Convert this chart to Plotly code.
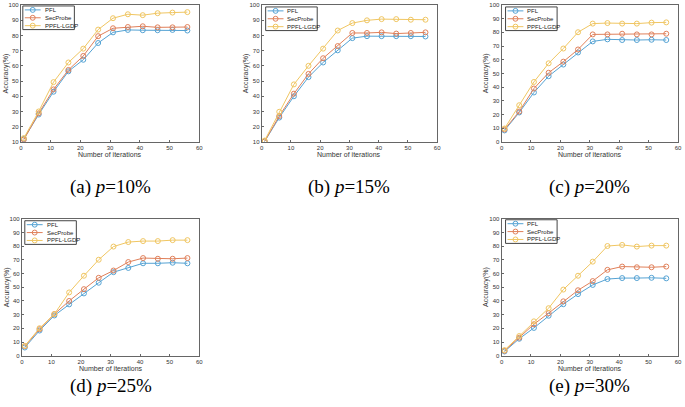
import plotly.graph_objects as go

W, H = 685, 407

iterations = [1, 6, 11, 16, 21, 26, 31, 36, 41, 46, 51, 56]
series_names = ["PFL", "SecProbe", "PPFL-LGDP"]

# (a) p=10%
pfl_a = [12, 28, 43, 56.4, 64, 75, 82, 83.6, 83.4, 83.4, 83.6, 83.2]
sec_a = [11.5, 28.8, 44.5, 57.3, 66.5, 79.5, 84.7, 85.5, 86, 85.3, 85.3, 85.5]
lgdp_a = [12.5, 30, 49.3, 62.2, 71.3, 83.8, 91.3, 93.9, 93.3, 94.6, 95, 95.3]
# (b) p=15%
pfl_b = [10.3, 26, 40, 52.6, 62.2, 70.2, 78.2, 79.5, 79.5, 79.5, 79.5, 79.3]
sec_b = [10.4, 27, 41.7, 54.7, 65, 73, 81.6, 81.6, 82, 81.2, 81.6, 82]
lgdp_b = [10.9, 29.8, 47.8, 60, 71.3, 83.2, 88.1, 89.9, 90.7, 90.7, 90.3, 90.3]
# (c) p=20%
pfl_c = [8.4, 21.5, 36.1, 48, 56.5, 65.3, 73.4, 74.9, 74.4, 74.4, 74.6, 74.4]
sec_c = [9.1, 22.2, 39, 50.5, 58.6, 67.5, 78.5, 78.5, 79, 78.5, 78.5, 79]
lgdp_c = [9.8, 26.8, 43.8, 57.4, 68.2, 80.1, 86.4, 86.8, 86.4, 86.4, 87.1, 87.3]
# (d) p=25%
pfl_d = [6, 18.4, 29.4, 37.5, 45.5, 53.3, 61, 64.1, 67.5, 67.5, 67.9, 67.5]
sec_d = [6.9, 19.4, 30.4, 40, 48.6, 56.9, 62.2, 68.4, 71.3, 70.8, 70.8, 71.3]
lgdp_d = [7.2, 20.1, 30.4, 46.2, 58.4, 70.1, 79.7, 83, 83.7, 83.7, 84.4, 84.4]
# (e) p=30%
pfl_e = [3.1, 12.4, 20.3, 29.2, 37.6, 45, 51.7, 56, 56.7, 56.7, 56.9, 56.5]
sec_e = [3.6, 13.2, 23, 31.1, 39.7, 47.8, 54.5, 62.7, 65.1, 64.6, 64.6, 65.1]
lgdp_e = [4.1, 14.4, 25.1, 34.7, 48.3, 58.4, 68.7, 80.1, 80.9, 79.7, 80.4, 80.4]

captions = ["(a) <i>p</i>=10%", "(b) <i>p</i>=15%", "(c) <i>p</i>=20%",
            "(d) <i>p</i>=25%", "(e) <i>p</i>=30%"]
y_ranges = [(10, 100), (10, 100), (0, 100), (0, 100), (0, 100)]
x_range = (0, 60)
x_ticks = [0, 10, 20, 30, 40, 50, 60]

panels = [
    (pfl_a, sec_a, lgdp_a),
    (pfl_b, sec_b, lgdp_b),
    (pfl_c, sec_c, lgdp_c),
    (pfl_d, sec_d, lgdp_d),
    (pfl_e, sec_e, lgdp_e),
]

# pixel boxes (left, right, top, bottom)
boxes = [
    (19, 199, 2, 141),
    (262, 439, 2, 141),
    (504, 682, 2, 141),
    (20, 199, 219, 358),
    (504, 682, 219, 358),
]
legend_pos = [(21, 3), (266, 4), (508, 4), (23, 221), (508, 220)]
caption_y = [187, 187, 187, 389, 389]

colors = ["#55a3d4", "#e0805a", "#f0c662"]


def px(x):
    return x / W


def py(y):
    return 1 - y / H


fig = go.Figure()
layout = dict(width=W, height=H, margin=dict(l=0, r=0, t=0, b=0),
              paper_bgcolor="white", plot_bgcolor="white", showlegend=False)
annotations = []
shapes = []

for i, (data, box) in enumerate(zip(panels, boxes)):
    n = "" if i == 0 else str(i + 1)
    l, r, t, b = box
    xa = "xaxis" + n
    ya = "yaxis" + n
    for name, vals, col in zip(series_names, data, colors):
        fig.add_trace(go.Scatter(
            x=iterations, y=vals, name=name, mode="lines+markers",
            line=dict(color=col, width=1),
            marker=dict(symbol="circle-open", size=5, color=col, line=dict(width=1)),
            xaxis="x" + n, yaxis="y" + n))
    axis_common = dict(showline=True, mirror=True, linecolor="#666", linewidth=1,
                       ticks="inside", ticklen=2, tickcolor="#666", showgrid=False,
                       zeroline=False, ticklabeloverflow="allow",
                       tickfont=dict(family="Liberation Sans", size=6, color="#333"))
    layout[xa] = dict(domain=[px(l), px(r)], range=list(x_range), tickvals=x_ticks,
                      anchor="y" + n, **axis_common)
    y0, y1 = y_ranges[i]
    layout[ya] = dict(domain=[py(b), py(t)], range=[y0, y1], dtick=10,
                      anchor="x" + n, **axis_common)

    # legend box drawn manually (compact, MATLAB style)
    lx, ly = legend_pos[i]
    shapes.append(dict(type="rect", xref="paper", yref="paper",
                       x0=px(lx), x1=px(lx + 52), y0=py(ly + 24), y1=py(ly),
                       line=dict(color="#444", width=1), fillcolor="white", layer="above"))
    for k, (name, col) in enumerate(zip(series_names, colors)):
        ry = ly + 4 + 8 * k
        shapes.append(dict(type="line", xref="paper", yref="paper",
                           x0=px(lx + 2), x1=px(lx + 18), y0=py(ry), y1=py(ry),
                           line=dict(color=col, width=1), layer="above"))
        shapes.append(dict(type="circle", xref="paper", yref="paper",
                           x0=px(lx + 7.5), x1=px(lx + 12.5), y0=py(ry + 2.5), y1=py(ry - 2.5),
                           line=dict(color=col, width=1), fillcolor="rgba(0,0,0,0)",
                           layer="above"))
        annotations.append(dict(text=name, xref="paper", yref="paper",
                                x=px(lx + 20), y=py(ry), xanchor="left", yanchor="middle",
                                showarrow=False,
                                font=dict(family="Liberation Sans", size=6, color="#222")))

    # axis titles
    annotations.append(dict(text="Number of iterations", xref="paper", yref="paper",
                            x=px((l + r) / 2), y=py(b + 13), xanchor="center",
                            yanchor="middle", showarrow=False,
                            font=dict(family="Liberation Sans", size=7, color="#333")))
    annotations.append(dict(text="Accuracy(%)", xref="paper", yref="paper",
                            x=px(l - 15), y=py((t + b) / 2), textangle=-90,
                            xanchor="center", yanchor="middle", showarrow=False,
                            font=dict(family="Liberation Sans", size=7, color="#333")))
    annotations.append(dict(text=captions[i], xref="paper", yref="paper",
                            x=px((l + r) / 2), y=py(caption_y[i]), xanchor="center",
                            yanchor="middle", showarrow=False,
                            font=dict(family="Liberation Serif", size=19, color="black")))

layout["annotations"] = annotations
layout["shapes"] = shapes
fig.update_layout(**layout)
fig.write_html("out.html", post_script="document.body.style.margin='0';",
               config={"displayModeBar": False})
